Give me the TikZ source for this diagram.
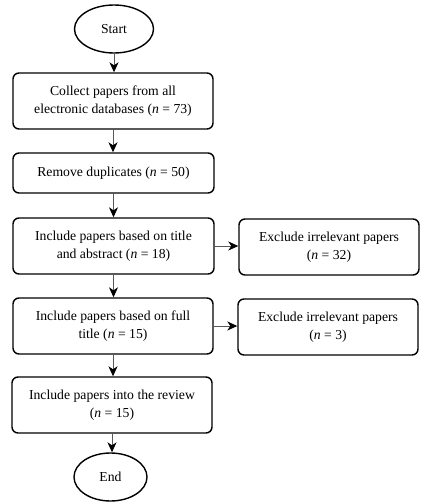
\documentclass[tikz,border=0pt]{standalone}
\usepackage{fontspec}
\setmainfont{Liberation Serif}
\usetikzlibrary{shapes.geometric,arrows.meta}
\begin{document}
\begin{tikzpicture}[x=1pt,y=-1pt,
  every node/.style={font=\fontsize{13.7}{18}\selectfont, align=center, inner sep=0pt},
  proc/.style={draw, line width=1.4pt, rounded corners=6pt, minimum height=56pt},
  term/.style={draw, ellipse, line width=1.4pt},
  arr/.style={draw=black!65, line width=0.9pt, -{Stealth[length=10pt,width=9pt,inset=3pt,fill=black,color=black]}}]
\useasboundingbox (0,0) rectangle (431,503);
\node[term, minimum width=79pt, minimum height=48pt] (start) at (114,29) {Start};
\node[proc, minimum width=200pt] (b1) at (113,101) {Collect papers from all\\electronic databases (\textit{n} = 73)};
\node[proc, minimum width=201pt, minimum height=40pt] (b2) at (113.5,173) {Remove duplicates (\textit{n} = 50)};
\node[proc, minimum width=201pt] (b3) at (113.5,246) {Include papers based on title\\and abstract (\textit{n} = 18)};
\node[proc, minimum width=180pt] (e1) at (329,247) {Exclude irrelevant papers\\(\textit{n} = 32)};
\node[proc, minimum width=200pt] (b4) at (113,326) {Include papers based on full\\title (\textit{n} = 15)};
\node[proc, minimum width=180pt] (e2) at (328,327) {Exclude irrelevant papers\\(\textit{n} = 3)};
\node[proc, minimum width=200pt] (b5) at (112,405) {Include papers into the review\\(\textit{n} = 15)};
\node[term, minimum width=73pt, minimum height=48pt] (end) at (110.5,477) {End};
\draw[arr] (start.south) -- (start.south |- b1.north);
\draw[arr] (b1.south) -- (b1.south |- b2.north);
\draw[arr] (b2.south) -- (b2.south |- b3.north);
\draw[arr] (b3.south) -- (b3.south |- b4.north);
\draw[arr] (b4.south) -- (b4.south |- b5.north);
\draw[arr] (b5.south) -- (b5.south |- end.north);
\draw[arr] (b3.east) -- (b3.east -| e1.west);
\draw[arr] (b4.east) -- (b4.east -| e2.west);
\end{tikzpicture}
\end{document}
